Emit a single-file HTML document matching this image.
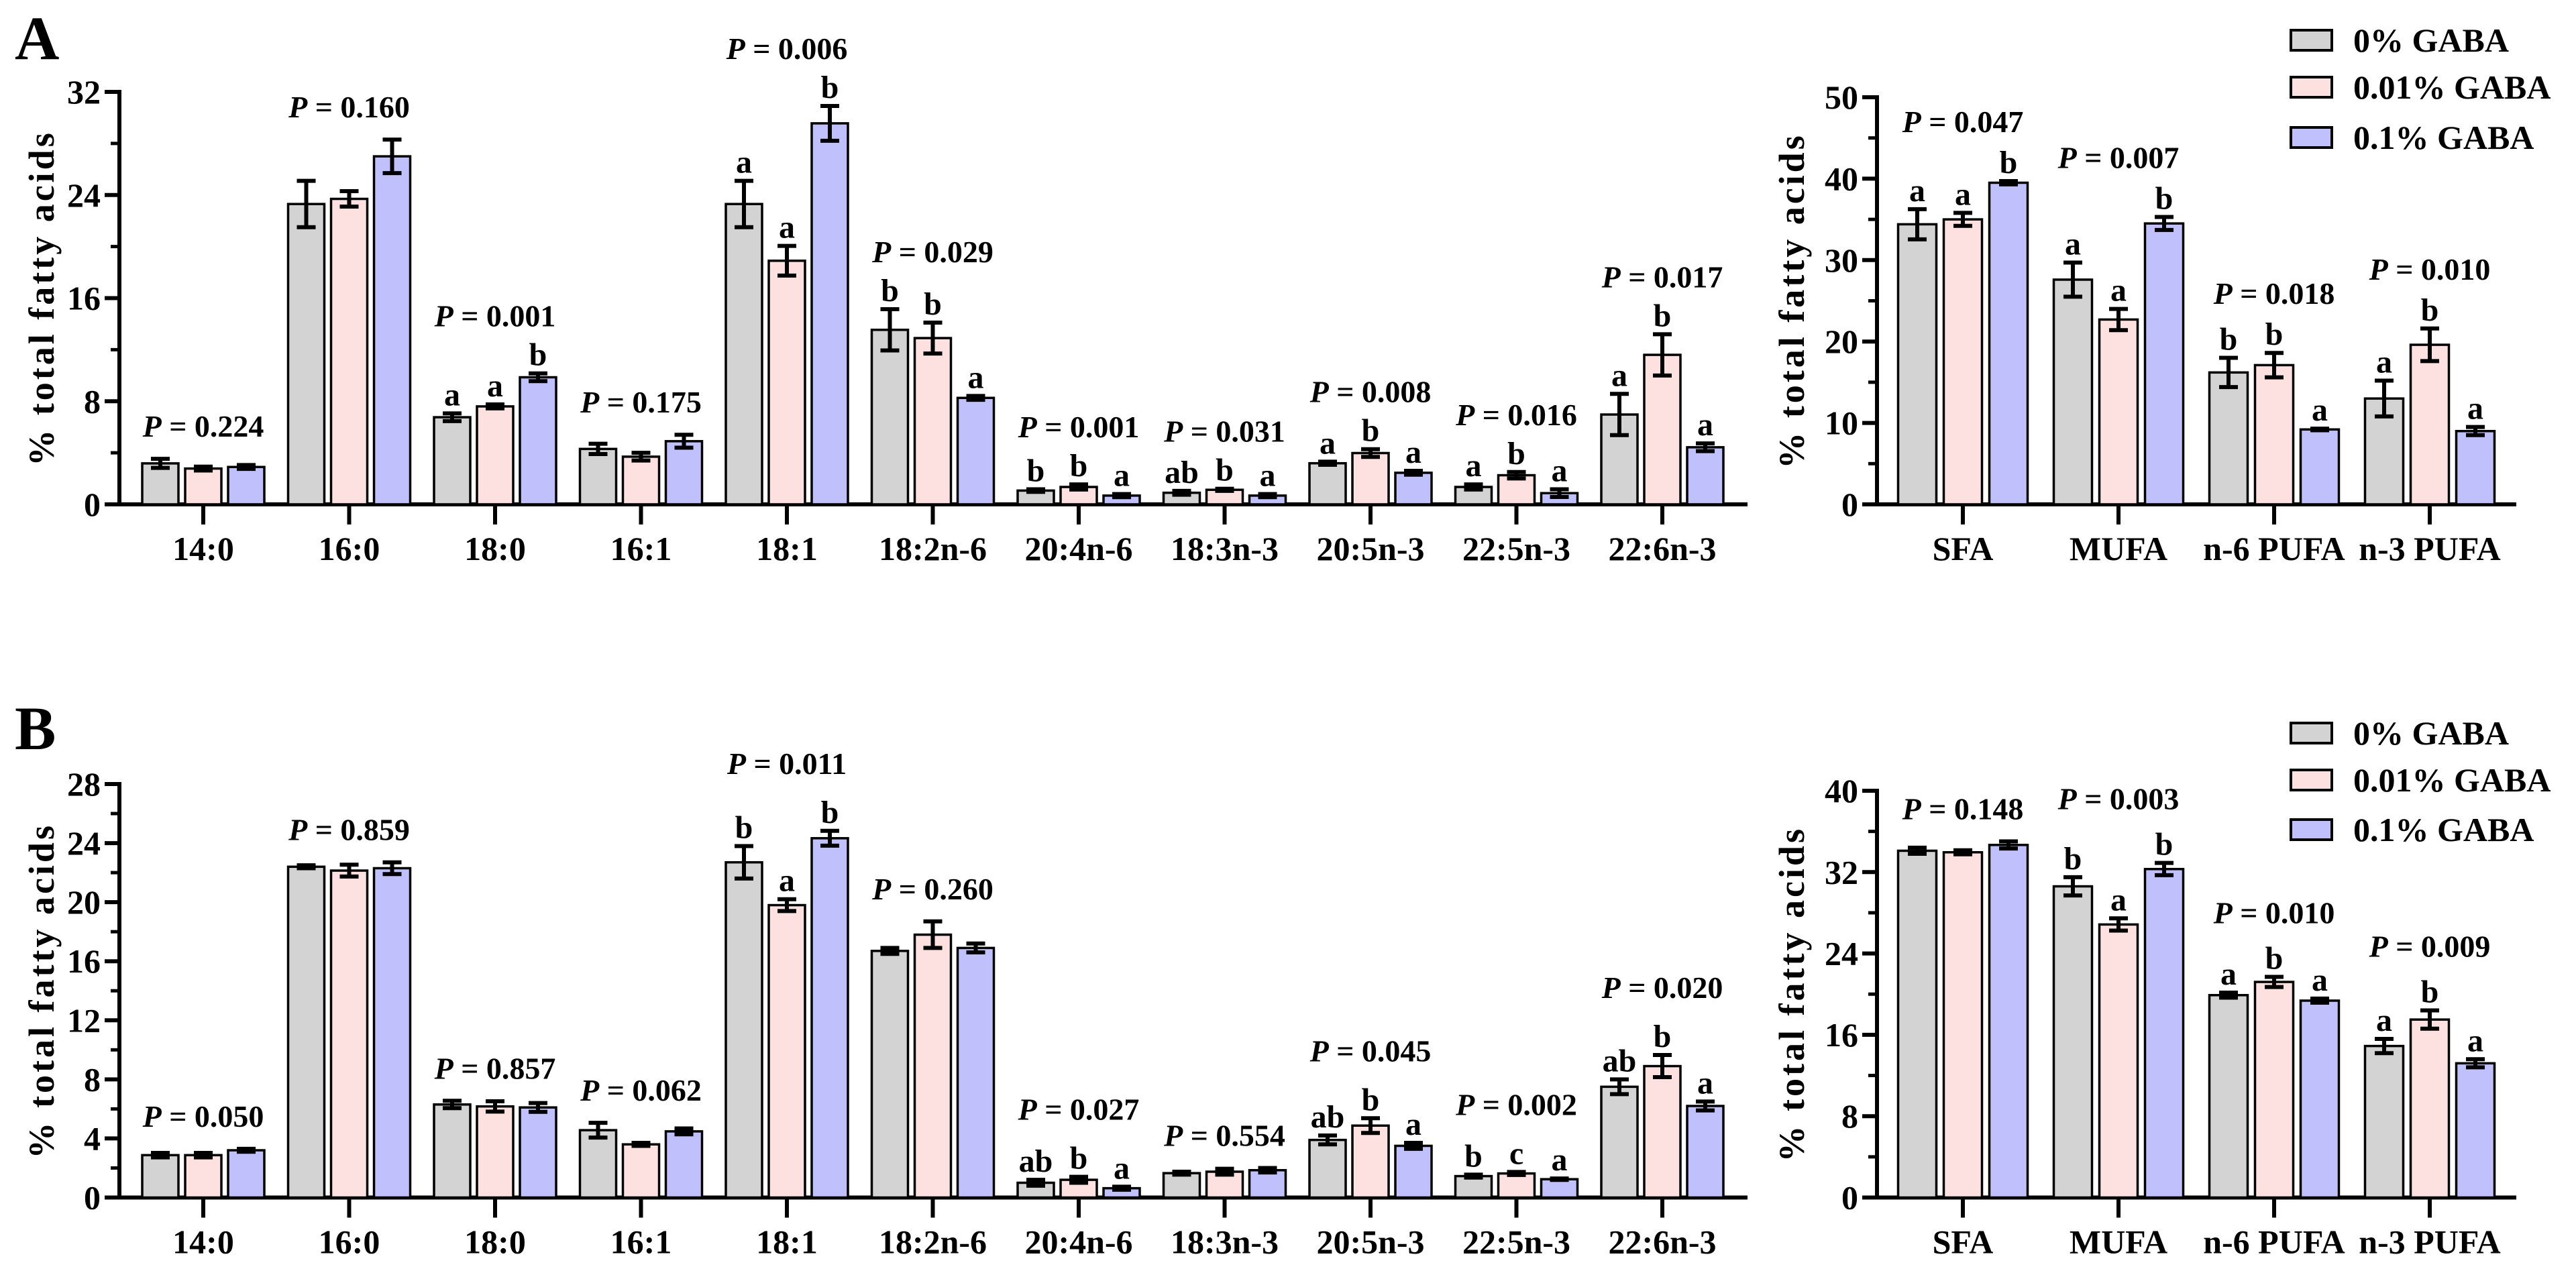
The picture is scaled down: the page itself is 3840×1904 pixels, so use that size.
<!DOCTYPE html>
<html><head><meta charset="utf-8"><style>
html,body{margin:0;padding:0;background:#fff;}
svg, svg text{font-family:"Liberation Serif","Times New Roman",serif;font-weight:bold;}
</style></head><body>
<svg id="fig" xmlns="http://www.w3.org/2000/svg" width="3840" height="1899" viewBox="0 0 3840 1899" font-family="Liberation Serif, serif" font-weight="bold">
<rect width="3840" height="1899" fill="#fff"/>
<text x="22" y="88" font-size="92">A</text>
<text x="22" y="1117" font-size="92">B</text>
</svg>
<script>
// ---- categories ----
const faCats = ["14:0","16:0","18:0","16:1","18:1","18:2n-6","20:4n-6","18:3n-3","20:5n-3","22:5n-3","22:6n-3"];
const sumCats = ["SFA","MUFA","n-6 PUFA","n-3 PUFA"];
const seriesNames = ["0% GABA","0.01% GABA","0.1% GABA"];
// ---- Panel A, individual fatty acids ----
const aFaG = [3.18,23.3,6.76,4.3,23.3,13.54,1.07,0.9,3.19,1.35,6.97];
const aFaP = [2.78,23.7,7.6,3.7,18.9,12.9,1.35,1.13,3.98,2.26,11.6];
const aFaB = [2.9,27.0,9.86,4.9,29.56,8.26,0.68,0.68,2.45,0.87,4.43];
const aFaGe = [0.35,1.8,0.3,0.4,1.8,1.6,0.1,0.15,0.12,0.2,1.6];
const aFaPe = [0.15,0.6,0.15,0.3,1.15,1.2,0.2,0.08,0.3,0.25,1.6];
const aFaBe = [0.15,1.3,0.3,0.5,1.35,0.15,0.12,0.12,0.15,0.3,0.3];
const aFaLg = ["","","a","","a","b","b","ab","a","a","a"];
const aFaLp = ["","","a","","a","b","b","b","b","b","b"];
const aFaLb = ["","","b","","b","a","a","a","a","a","a"];
const aFaPv = ["0.224","0.160","0.001","0.175","0.006","0.029","0.001","0.031","0.008","0.016","0.017"];
const aFaTicks = [0,8,16,24,32];
// ---- Panel A, sums ----
const aSumG = [34.4,27.6,16.2,13.0];
const aSumP = [35.0,22.7,17.1,19.6];
const aSumB = [39.5,34.5,9.2,9.0];
const aSumGe = [1.85,2.1,1.8,2.2];
const aSumPe = [0.8,1.3,1.5,2.0];
const aSumBe = [0.2,0.8,0.1,0.5];
const aSumLg = ["a","a","b","a"];
const aSumLp = ["a","a","b","b"];
const aSumLb = ["b","b","a","a"];
const aSumPv = ["0.047","0.007","0.018","0.010"];
const aSumTicks = [0,10,20,30,40,50];
// ---- Panel B, individual fatty acids ----
const bFaG = [2.87,22.4,6.3,4.56,22.7,16.7,1.0,1.65,3.9,1.45,7.5];
const bFaP = [2.87,22.14,6.17,3.6,19.8,17.8,1.2,1.75,4.87,1.63,8.9];
const bFaB = [3.2,22.3,6.1,4.48,24.33,16.9,0.63,1.85,3.5,1.24,6.2];
const bFaGe = [0.15,0.1,0.25,0.5,1.1,0.2,0.2,0.1,0.3,0.1,0.5];
const bFaPe = [0.15,0.4,0.35,0.1,0.4,0.9,0.2,0.2,0.5,0.1,0.75];
const bFaBe = [0.1,0.4,0.3,0.2,0.5,0.3,0.1,0.15,0.2,0.05,0.3];
const bFaLg = ["","","","","b","","ab","","ab","b","ab"];
const bFaLp = ["","","","","a","","b","","b","c","b"];
const bFaLb = ["","","","","b","","a","","a","a","a"];
const bFaPv = ["0.050","0.859","0.857","0.062","0.011","0.260","0.027","0.554","0.045","0.002","0.020"];
const bFaTicks = [0,4,8,12,16,20,24,28];
// ---- Panel B, sums ----
const bSumG = [34.1,30.6,19.9,14.9];
const bSumP = [33.95,26.85,21.2,17.5];
const bSumB = [34.67,32.3,19.36,13.2];
const bSumGe = [0.3,0.9,0.25,0.7];
const bSumPe = [0.2,0.6,0.5,0.9];
const bSumBe = [0.35,0.6,0.2,0.4];
const bSumLg = ["","b","a","a"];
const bSumLp = ["","a","b","b"];
const bSumLb = ["","b","a","a"];
const bSumPv = ["0.148","0.003","0.010","0.009"];
const bSumTicks = [0,8,16,24,32,40];

const NS = "http://www.w3.org/2000/svg";
const svg = document.getElementById("fig");
const fills = ["#d3d3d3","#fde0e0","#c0c0fc"];
function mk(tag, attrs, parent){
  const e = document.createElementNS(NS, tag);
  for (const k in attrs) e.setAttribute(k, attrs[k]);
  (parent || svg).appendChild(e);
  return e;
}

function panel(o){
  const g = mk("g", {});
  
  
  const ymax = o.ticks[o.ticks.length-1];
  const yS = v => o.y0 - (o.y0 - o.yTop) * v / ymax;
  const xC = i => o.x0 + o.step * i;
  const ya = mk("line", {x1:o.ax, y1:o.y0+3, x2:o.ax, y2:o.yTop-3, stroke:"#000","stroke-width":6}, g);
  
  
  const xa = mk("line", {x1:o.xs, y1:o.y0, x2:o.xe, y2:o.y0, stroke:"#000","stroke-width":6}, g);
  
  
  for (let k=0;k<o.ticks.length;k++){
    const t = o.ticks[k], y = yS(t);
    mk("line", {x1:o.ax-22, y1:y, x2:o.ax, y2:y, stroke:"#000","stroke-width":6}, g);
    const lb = mk("text", {x:o.ax-28, y:y, "text-anchor":"end","dominant-baseline":"central","font-size":50}, g);
    lb.textContent = t;
    
    
    if (k < o.ticks.length-1){
      const ym = yS((t + o.ticks[k+1])/2);
      mk("line", {x1:o.ax-13, y1:ym, x2:o.ax, y2:ym, stroke:"#000","stroke-width":5}, g);
    }
  }
  const yt = mk("text", {x:o.titleX, y:(o.y0+o.yTop)/2+18, "text-anchor":"middle","font-size":54,
    transform:"rotate(-90 "+o.titleX+" "+((o.y0+o.yTop)/2)+")", "letter-spacing":"4"}, g);
  yt.textContent = "% total fatty acids";
  
  
  const vals = [o.g, o.p, o.b], errs = [o.ge, o.pe, o.be], lets = [o.lg, o.lp, o.lb];
  for (let i=0;i<o.cats.length;i++){
    const cx = xC(i);
    mk("line", {x1:cx, y1:o.y0, x2:cx, y2:o.y0+30, stroke:"#000","stroke-width":6}, g);
    const xl = mk("text", {x:cx, y:o.y0+66, "text-anchor":"middle","dominant-baseline":"central","font-size":50}, g);
    xl.textContent = o.cats[i];
    
    
    let top = 1e9, hasL = false;
    for (let s=0;s<3;s++){
      const bx = cx + (s-1)*o.pitch;
      const v = vals[s][i], e = errs[s][i];
      const yv = yS(v);
      const r = mk("rect", {x:bx-o.bw/2, y:yv, width:o.bw, height:o.y0-yv, fill:fills[s], stroke:"#000","stroke-width":3.5}, g);
      
      
      const yh = yS(v+e), yl = yS(v-e);
      const eb = mk("path", {d:"M"+bx+" "+yl+"V"+yh+"M"+(bx-14)+" "+yh+"H"+(bx+14)+"M"+(bx-14)+" "+yl+"H"+(bx+14),
        stroke:"#000","stroke-width":6, fill:"none"}, g);
      
      
      top = Math.min(top, yh);
      if (lets[s][i]){
        hasL = true;
        const lt = mk("text", {x:bx, y:yh-12, "text-anchor":"middle","font-size":48}, g);
        lt.textContent = lets[s][i];
        
        
      }
    }
    const py = top - (hasL ? o.offL : 48) + 15;
    const pt = mk("text", {x:cx, y:py, "text-anchor":"middle","font-size":46}, g);
    const it = mk("tspan", {"font-style":"italic"}, pt); it.textContent = "P";
    const rest = mk("tspan", {}, pt); rest.textContent = " = " + o.pv[i];
    
    
  }
}

function legend(ys, name){
  const g = mk("g", {});
  
  
  for (let s=0;s<3;s++){
    const r = mk("rect", {x:3415, y:ys[s]-15, width:61, height:30, fill:fills[s], stroke:"#000","stroke-width":4}, g);
    
    
    const t = mk("text", {x:3508, y:ys[s], "dominant-baseline":"central","font-size":50}, g);
    t.textContent = seriesNames[s];
    
    
  }
}

const leftGeom = {ax:178, xs:157, xe:2605, x0:303, step:217.5, pitch:64, bw:54, titleX:62};
const rightGeom = {ax:2798, xs:2778, xe:3751, x0:2926, step:232, pitch:68, bw:57, titleX:2671};

panel(Object.assign({}, leftGeom, {name:"panel-a-fatty-acids", y0:752, yTop:137, ticks:aFaTicks, cats:faCats,
  g:aFaG,p:aFaP,b:aFaB,ge:aFaGe,pe:aFaPe,be:aFaBe,lg:aFaLg,lp:aFaLp,lb:aFaLb,pv:aFaPv, offL:85}));
panel(Object.assign({}, rightGeom, {name:"panel-a-summary", y0:752, yTop:145, ticks:aSumTicks, cats:sumCats,
  g:aSumG,p:aSumP,b:aSumB,ge:aSumGe,pe:aSumPe,be:aSumBe,lg:aSumLg,lp:aSumLp,lb:aSumLb,pv:aSumPv, offL:88}));
panel(Object.assign({}, leftGeom, {name:"panel-b-fatty-acids", y0:1785.5, yTop:1169, ticks:bFaTicks, cats:faCats,
  g:bFaG,p:bFaP,b:bFaB,ge:bFaGe,pe:bFaPe,be:bFaBe,lg:bFaLg,lp:bFaLp,lb:bFaLb,pv:bFaPv, offL:100}));
panel(Object.assign({}, rightGeom, {name:"panel-b-summary", y0:1785.5, yTop:1179, ticks:bSumTicks, cats:sumCats,
  g:bSumG,p:bSumP,b:bSumB,ge:bSumGe,pe:bSumPe,be:bSumBe,lg:bSumLg,lp:bSumLp,lb:bSumLb,pv:bSumPv, offL:95}));
legend([60,130,205], "legend-a");
legend([1093,1163,1237], "legend-b");
</script>
</body></html>
